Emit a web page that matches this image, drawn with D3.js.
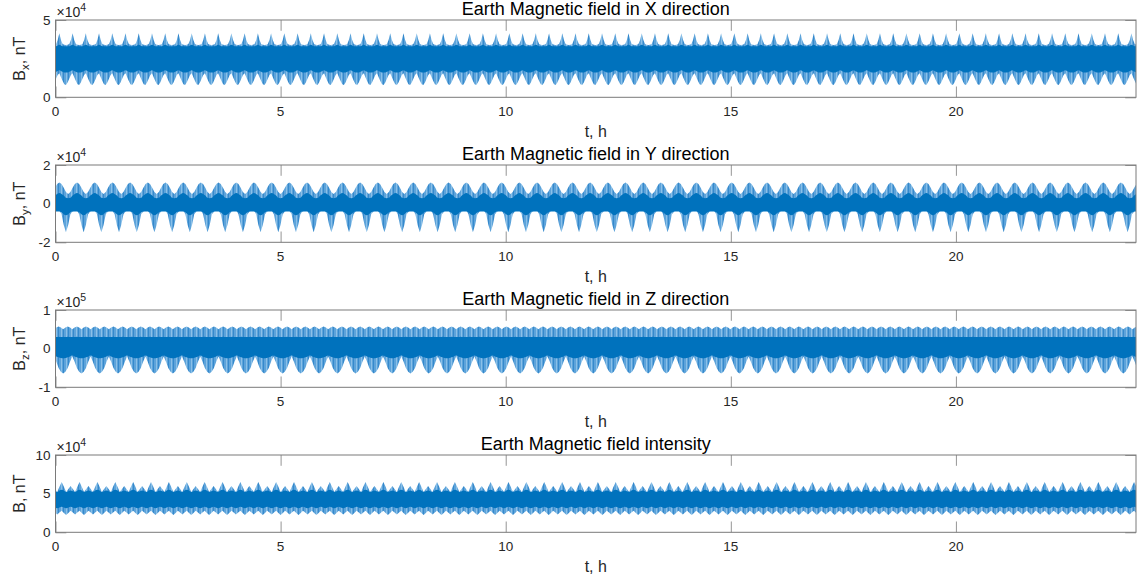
<!DOCTYPE html>
<html>
<head>
<meta charset="utf-8">
<script src="https://cdn.jsdelivr.net/npm/d3@7"></script>
<style>
  html, body { margin: 0; padding: 0; background: #fff; }
  svg { display: block; font-family: "Liberation Sans", Helvetica, Arial, sans-serif; }
</style>
</head>
<body>
<svg id="chart" width="1144" height="585"></svg>
<script>
// ---- time axis (hours) ----
const tDomain = [0, 24];
const tTicks = [0, 5, 10, 15, 20];

// ---- one repeating cycle of each component's envelope ----
// phase positions within a cycle (fraction of the period)
const cycleFrac = [0, 0.125, 0.25, 0.375, 0.5, 0.625, 0.75, 0.875];

// Bx, units of 1e4 nT
const bxPeriod = 0.294, bxPhase = 0.085;
const bxUpper   = [4.15, 3.70, 3.45, 3.40, 3.38, 3.40, 3.45, 3.70];
const bxLower   = [1.55, 1.30, 1.05, 0.85, 0.80, 0.95, 1.20, 1.45];
const bxCoreUp  = [3.40, 3.35, 3.30, 3.30, 3.30, 3.30, 3.30, 3.35];
const bxCoreLo  = [1.75, 1.70, 1.65, 1.60, 1.60, 1.60, 1.65, 1.70];

// By, units of 1e4 nT
const byPeriod = 0.393, byPhase = 0.085;
const byUpper   = [1.09, 1.02, 0.82, 0.60, 0.50, 0.60, 0.82, 1.02];
const byLower   = [-0.35, -0.55, -1.10, -1.48, -1.10, -0.55, -0.40, -0.35];
const byCoreUp  = [0.55, 0.50, 0.42, 0.30, 0.28, 0.30, 0.42, 0.50];
const byCoreLo  = [-0.40, -0.45, -0.55, -0.60, -0.55, -0.45, -0.40, -0.40];

// Bz, units of 1e5 nT
const bzPeriod = 0.406, bzPhase = 0.17;
const bzUpper   = [0.50, 0.55, 0.57, 0.55, 0.50, 0.55, 0.57, 0.55];
const bzLower   = [-0.64, -0.60, -0.50, -0.34, -0.20, -0.34, -0.50, -0.60];
const bzCoreUp  = [0.30, 0.30, 0.31, 0.30, 0.30, 0.30, 0.31, 0.30];
const bzCoreLo  = [-0.25, -0.24, -0.22, -0.20, -0.18, -0.20, -0.22, -0.24];

// |B|, units of 1e4 nT
const bPeriod = 0.397, bPhase = 0.137;
const bUpper    = [6.50, 5.90, 5.20, 5.60, 6.00, 5.60, 5.20, 5.90];
const bLower    = [2.80, 2.50, 2.25, 2.50, 2.80, 2.55, 2.30, 2.55];
const bCoreUp   = [5.50, 5.40, 5.20, 5.30, 5.40, 5.30, 5.20, 5.40];
const bCoreLo   = [3.30, 3.20, 3.10, 3.20, 3.30, 3.20, 3.10, 3.20];

// ---- panel labels / axis settings ----
const titles = [
  "Earth Magnetic field in X direction",
  "Earth Magnetic field in Y direction",
  "Earth Magnetic field in Z direction",
  "Earth Magnetic field intensity"
];
const ySubs = ["x", "y", "z", null];
const yDomains = [[0, 5], [-2, 2], [-1, 1], [0, 10]];
const yTicks = [[0, 5], [-2, 0, 2], [-1, 0, 1], [0, 5, 10]];
const exponents = ["4", "4", "5", "4"];

const panels = [
  { period: bxPeriod, phase: bxPhase, upper: bxUpper, lower: bxLower, coreUp: bxCoreUp, coreLo: bxCoreLo },
  { period: byPeriod, phase: byPhase, upper: byUpper, lower: byLower, coreUp: byCoreUp, coreLo: byCoreLo },
  { period: bzPeriod, phase: bzPhase, upper: bzUpper, lower: bzLower, coreUp: bzCoreUp, coreLo: bzCoreLo },
  { period: bPeriod,  phase: bPhase,  upper: bUpper,  lower: bLower,  coreUp: bCoreUp,  coreLo: bCoreLo }
];

// ---- layout ----
const left = 55.5, right = 1136;
const tops = [20, 165, 310, 455];
const ph = 77.3;
const tickLen = 10.8;
const textColor = "#262626";
const boxColor = "#7a7a7a";
const lineBlue = "#0072bd";

const svg = d3.select("#chart");
const defs = svg.append("defs");

// streaky fill for the outer, lighter part of the dense trace
const pat = defs.append("pattern")
  .attr("id", "streak").attr("patternUnits", "userSpaceOnUse")
  .attr("width", 5).attr("height", 8);
pat.append("rect").attr("width", 5).attr("height", 8).attr("fill", "#5da3da");
pat.append("rect").attr("x", 1).attr("width", 1).attr("height", 8).attr("fill", "#8ac0e8");
pat.append("rect").attr("x", 3).attr("width", 1).attr("height", 8).attr("fill", "#3589cc");

const x = d3.scaleLinear().domain(tDomain).range([left, right]);

panels.forEach((p, i) => {
  const top = tops[i], bottom = top + ph;
  const y = d3.scaleLinear().domain(yDomains[i]).range([bottom, top]);
  const g = svg.append("g");

  defs.append("clipPath").attr("id", "clip" + i)
    .append("rect").attr("x", left).attr("y", top)
    .attr("width", right - left).attr("height", ph);

  // tick marks (under the data)
  const ax = g.append("g").attr("class", "ticks");
  ax.append("g").attr("transform", `translate(0,${bottom})`)
    .call(d3.axisBottom(x).tickValues(tTicks).tickSizeInner(-tickLen).tickSizeOuter(0).tickFormat(""));
  ax.append("g").attr("transform", `translate(0,${top})`)
    .call(d3.axisTop(x).tickValues(tTicks).tickSizeInner(-tickLen).tickSizeOuter(0).tickFormat(""));
  ax.append("g").attr("transform", `translate(${left},0)`)
    .call(d3.axisLeft(y).tickValues(yTicks[i]).tickSizeInner(-tickLen).tickSizeOuter(0).tickFormat(""));
  ax.append("g").attr("transform", `translate(${right},0)`)
    .call(d3.axisRight(y).tickValues(yTicks[i]).tickSizeInner(-tickLen).tickSizeOuter(0).tickFormat(""));
  ax.selectAll(".domain").remove();
  ax.selectAll(".tick line").attr("stroke", boxColor).attr("stroke-width", 0.8);

  // envelope samples over the whole day, repeating the read cycle
  const pts = [];
  const kMin = Math.floor((tDomain[0] - p.phase) / p.period) - 1;
  const kMax = Math.ceil((tDomain[1] - p.phase) / p.period) + 1;
  for (let k = kMin; k <= kMax; k++) {
    cycleFrac.forEach((f, j) => {
      pts.push({ t: p.phase + (k + f) * p.period,
                 hi: p.upper[j], lo: p.lower[j], cHi: p.coreUp[j], cLo: p.coreLo[j] });
    });
  }

  const dataG = g.append("g").attr("clip-path", `url(#clip${i})`);
  const outer = d3.area().x(d => x(d.t)).y0(d => y(d.lo)).y1(d => y(d.hi)).curve(d3.curveLinear);
  const core = d3.area().x(d => x(d.t)).y0(d => y(d.cLo)).y1(d => y(d.cHi)).curve(d3.curveMonotoneX);
  dataG.append("path").datum(pts).attr("d", outer).attr("fill", "url(#streak)");
  dataG.append("path").datum(pts).attr("d", core).attr("fill", lineBlue);

  // box
  g.append("rect").attr("x", left).attr("y", top)
    .attr("width", right - left).attr("height", ph)
    .attr("fill", "none").attr("stroke", boxColor).attr("stroke-width", 1);

  // x tick labels
  g.selectAll(".xt").data(tTicks).enter().append("text")
    .attr("x", d => x(d)).attr("y", bottom + 19)
    .attr("text-anchor", "middle").attr("font-size", 13.5).attr("fill", textColor)
    .text(d => d);

  // y tick labels
  g.selectAll(".yt").data(yTicks[i]).enter().append("text")
    .attr("x", left - 5).attr("y", d => y(d) + 4.8)
    .attr("text-anchor", "end").attr("font-size", 13.5).attr("fill", textColor)
    .text(d => d);

  // exponent marker
  const ex = g.append("text").attr("x", left + 1).attr("y", top - 3)
    .attr("font-size", 14).attr("fill", textColor);
  ex.append("tspan").text("\u00d710");
  ex.append("tspan").attr("dy", -6).attr("font-size", 10.5).text(exponents[i]);

  // title
  g.append("text").attr("x", (left + right) / 2).attr("y", top - 5.5)
    .attr("text-anchor", "middle").attr("font-size", 18).attr("fill", "#000")
    .text(titles[i]);

  // x label
  g.append("text").attr("x", (left + right) / 2).attr("y", bottom + 39.5)
    .attr("text-anchor", "middle").attr("font-size", 16).attr("fill", textColor)
    .text("t, h");

  // y label
  const yl = g.append("text")
    .attr("transform", `translate(24.5,${top + ph / 2}) rotate(-90)`)
    .attr("text-anchor", "middle").attr("font-size", 16).attr("fill", textColor);
  yl.append("tspan").text("B");
  if (ySubs[i]) {
    yl.append("tspan").attr("dy", 4).attr("font-size", 11.5).text(ySubs[i]);
    yl.append("tspan").attr("dy", -4).text(", nT");
  } else {
    yl.append("tspan").text(", nT");
  }
});
</script>
</body>
</html>
